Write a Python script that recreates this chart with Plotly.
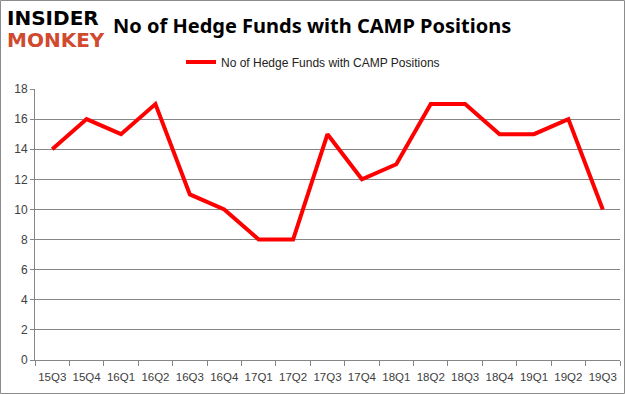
import plotly.graph_objects as go

quarters = ["15Q3", "15Q4", "16Q1", "16Q2", "16Q3", "16Q4", "17Q1", "17Q2", "17Q3",
            "17Q4", "18Q1", "18Q2", "18Q3", "18Q4", "19Q1", "19Q2", "19Q3"]
hedge_funds = [14, 16, 15, 17, 11, 10, 8, 8, 15, 12, 13, 17, 17, 15, 15, 16, 10]
series_name = "No of Hedge Funds with CAMP Positions"
title_text = "No of Hedge Funds with CAMP Positions"
y_ticks = list(range(0, 19, 2))

W, H = 625, 394
ML, MR, MT, MB = 35, 5, 89, 34
PW, PH = W - ML - MR, H - MT - MB


def px_x(x):
    return (x - ML) / PW


def px_y(y):
    return (H - MB - y) / PH


fig = go.Figure()
fig.add_trace(go.Scatter(
    x=quarters, y=hedge_funds, mode="lines", name=series_name,
    line=dict(color="#ff0000", width=4),
))

font_family = "Liberation Sans, Arial, sans-serif"

fig.update_layout(
    width=W, height=H,
    margin=dict(l=ML, r=MR, t=MT, b=MB, autoexpand=False),
    paper_bgcolor="white", plot_bgcolor="white",
    font=dict(family=font_family, size=12, color="#404040"),
    showlegend=True,
    legend=dict(orientation="h", x=px_x(313), xanchor="center", y=px_y(62), yanchor="middle",
                font=dict(size=12, color="#222222"), bgcolor="rgba(0,0,0,0)"),
    xaxis=dict(
        type="category", showgrid=False, showline=True, linecolor="#868686", linewidth=1,
        ticks="outside", tickson="boundaries", ticklen=5, tickcolor="#868686",
        tickfont=dict(size=11.5, color="#404040"), range=[-0.5, 16.5], tickangle=0,
        automargin=False, ticklabelstandoff=6,
    ),
    yaxis=dict(
        range=[0, 18], tickvals=y_ticks, showgrid=True, gridcolor="#868686", gridwidth=1,
        showline=True, linecolor="#868686", linewidth=1, ticks="outside", ticklen=4,
        tickcolor="#868686", tickfont=dict(size=12, color="#404040"), zeroline=False,
        automargin=False,
    ),
    annotations=[
        dict(text="<b>" + title_text + "</b>", x=px_x(312), y=px_y(25), xref="paper", yref="paper",
             showarrow=False, font=dict(size=20, color="black", family="Noto Sans, sans-serif"),
             xanchor="center", yanchor="middle"),
        dict(text="<b>INSIDER</b>", x=px_x(5), y=px_y(18), xref="paper", yref="paper",
             showarrow=False, xanchor="left", yanchor="middle",
             font=dict(size=20, color="black", family="DejaVu Sans, sans-serif")),
        dict(text="<b>MONKEY</b>", x=px_x(5), y=px_y(40), xref="paper", yref="paper",
             showarrow=False, xanchor="left", yanchor="middle",
             font=dict(size=20, color="#d04a2f", family="DejaVu Sans, sans-serif")),
    ],
    shapes=[dict(type="rect", xref="paper", yref="paper",
                 x0=px_x(0.5), y0=px_y(393.5), x1=px_x(624.5), y1=px_y(0.5),
                 line=dict(color="#8c8c8c", width=1), layer="above")],
)

fig.write_html("out.html", config={"displayModeBar": False},
               post_script="document.body.style.margin='0';document.body.style.padding='0';")
